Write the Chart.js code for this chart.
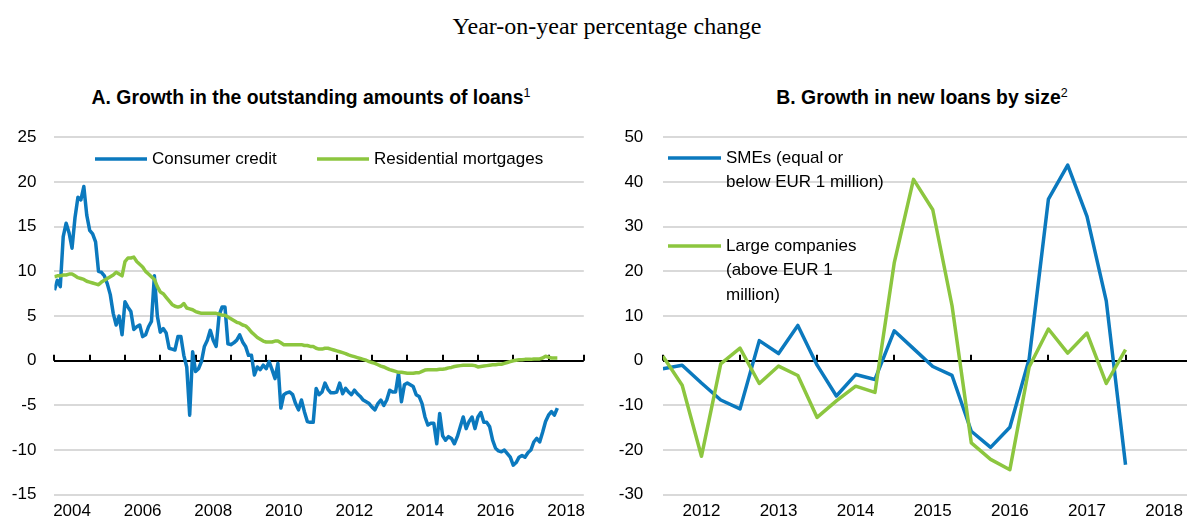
<!DOCTYPE html>
<html>
<head>
<meta charset="utf-8">
<script src="https://cdn.jsdelivr.net/npm/chart.js@4"></script>
<style>
  html, body { margin: 0; padding: 0; background: #fff; }
  body { width: 1189px; height: 526px; position: relative; overflow: hidden; }
  canvas { position: absolute; top: 0; }
  #cA { left: 0; }
  #cB { left: 594px; }
  .hd { position: absolute; white-space: nowrap; color: #000; transform: translate(-50%, -50%); }
  #top { left: 607px; top: 26px; font: 24px "Liberation Serif", "Times New Roman", serif; }
  .pt { top: 97px; font: bold 19.4px "Liberation Sans", Arial, sans-serif; }
  .pt sup { font-weight: normal; font-size: 12.5px; vertical-align: 7px; line-height: 0; }
  #tA { left: 311px; }
  #tB { left: 922px; }
</style>
</head>
<body>
<div id="top" class="hd">Year-on-year percentage change</div>
<div id="tA" class="hd pt">A. Growth in the outstanding amounts of loans<sup>1</sup></div>
<div id="tB" class="hd pt">B. Growth in new loans by size<sup>2</sup></div>
<canvas id="cA" width="594" height="526"></canvas>
<canvas id="cB" width="595" height="526"></canvas>
<script>
// ---- Panel A: monthly series, January 2004 onwards (year-on-year %) ----
const firstMonthA = '2004-01';
const consumerCredit = [
  7.9, 9.0, 8.3, 13.9, 15.4, 14.3, 12.6, 16.0, 18.3, 18.0, 19.5, 16.3,
  14.6, 14.2, 13.3, 10.0, 9.9, 9.5, 8.6, 7.4, 5.3, 4.0, 5.0, 2.9,
  6.6, 6.0, 5.5, 3.5, 3.8, 4.0, 2.7, 2.9, 3.8, 4.4, 9.5, 5.0,
  3.2, 3.6, 3.1, 1.4, 1.3, 1.2, 2.7, 2.7, 0.6, -0.7, -6.1, 1.0,
  -1.2, -0.9, -0.1, 1.6, 2.3, 3.4, 2.3, 1.6, 5.1, 6.0, 6.0, 1.9,
  1.8, 2.0, 2.3, 2.9, 2.1, 1.6, 0.6, 0.6, -1.6, -0.7, -1.0, -0.5,
  -0.9, -0.1, -1.0, -2.0, -0.3, -5.3, -3.8, -3.6, -3.5, -3.8, -4.8, -5.5,
  -4.4, -5.7, -6.8, -6.9, -6.9, -3.1, -3.8, -3.5, -2.5, -3.2, -3.6, -3.6,
  -3.5, -2.5, -3.7, -3.1, -3.5, -3.8, -3.3, -3.7, -4.0, -4.4, -4.6, -4.8,
  -5.2, -5.5, -4.8, -4.4, -5.0, -4.4, -3.3, -3.5, -3.5, -1.4, -4.6, -2.7,
  -2.5, -2.7, -2.9, -3.8, -4.0, -4.8, -6.3, -7.2, -7.0, -7.0, -9.3, -5.9,
  -8.4, -8.9, -8.5, -8.7, -9.3, -8.5, -7.4, -6.3, -7.6, -6.8, -6.3, -7.6,
  -6.3, -5.8, -6.9, -6.9, -7.4, -8.9, -9.8, -10.1, -10.2, -10.0, -10.4, -10.8,
  -11.7, -11.4, -10.8, -10.6, -10.8, -10.3, -10.0, -9.1, -8.7, -9.1, -8.0, -6.8,
  -6.1, -5.7, -6.1, -5.3
];
const residentialMortgages = [
  9.4, 9.5, 9.5, 9.6, 9.6, 9.7, 9.7, 9.5, 9.3, 9.2, 9.1, 8.9,
  8.8, 8.7, 8.6, 8.5, 8.8, 9.0, 9.2, 9.4, 9.6, 9.9, 9.7, 9.5,
  11.1, 11.5, 11.5, 11.6, 11.1, 10.8, 10.5, 10.0, 9.7, 9.4, 9.1, 8.3,
  7.7, 7.5, 7.1, 6.7, 6.3, 6.1, 6.0, 6.1, 6.4, 5.9, 5.8, 5.7,
  5.5, 5.4, 5.3, 5.3, 5.3, 5.3, 5.3, 5.3, 5.2, 5.1, 5.1, 4.9,
  4.7, 4.5, 4.3, 4.2, 4.0, 3.9, 3.6, 3.2, 2.9, 2.6, 2.4, 2.2,
  2.1, 2.1, 2.1, 2.2, 2.2, 2.0, 1.8, 1.8, 1.8, 1.8, 1.8, 1.8,
  1.8, 1.7, 1.7, 1.6, 1.6, 1.4, 1.3, 1.3, 1.4, 1.4, 1.3, 1.2,
  1.1, 1.0, 0.9, 0.8, 0.65, 0.55, 0.45, 0.35, 0.25, 0.15, 0.05, -0.1,
  -0.2, -0.3, -0.45, -0.6, -0.7, -0.85, -1.0, -1.1, -1.2, -1.3, -1.3, -1.35,
  -1.4, -1.4, -1.4, -1.35, -1.35, -1.2, -1.05, -1.0, -1.0, -1.0, -1.0, -0.95,
  -0.95, -0.9, -0.8, -0.75, -0.65, -0.6, -0.55, -0.5, -0.5, -0.5, -0.5, -0.55,
  -0.7, -0.65, -0.6, -0.55, -0.5, -0.45, -0.45, -0.4, -0.4, -0.3, -0.2, -0.1,
  0.0, 0.05, 0.1, 0.1, 0.15, 0.15, 0.15, 0.2, 0.2, 0.2, 0.3, 0.5,
  0.4, 0.3, 0.3, 0.3
];
const yearLabelsA = ['2004', '2006', '2008', '2010', '2012', '2014', '2016', '2018'];

// ---- Panel B: quarterly series (year-on-year %) ----
const quarters = [
  '2012Q1', '2012Q2', '2012Q3', '2012Q4', '2013Q1', '2013Q2', '2013Q3', '2013Q4',
  '2014Q1', '2014Q2', '2014Q3', '2014Q4', '2015Q1', '2015Q2', '2015Q3', '2015Q4',
  '2016Q1', '2016Q2', '2016Q3', '2016Q4', '2017Q1', '2017Q2', '2017Q3', '2017Q4',
  '2018Q1'
];
const smeLoans = [
  -1.8, -1.0, -5.0, -8.8, -10.8, 4.5, 1.6, 7.9,
  -1.0, -7.9, -3.1, -4.2, 6.7, 2.7, -1.3, -3.3,
  -15.8, -19.4, -14.9, 0.4, 36.2, 43.8, 32.3, 13.4,
  -23.3
];
const largeCompanyLoans = [
  1.0, -5.5, -21.4, -0.7, 2.8, -5.1, -1.2, -3.3,
  -12.7, -9.0, -5.7, -7.1, 21.9, 40.6, 33.8, 12.3,
  -18.4, -22.1, -24.4, -1.4, 7.1, 1.7, 6.2, -5.1,
  2.5
];
const yearLabelsB = ['2012', '2013', '2014', '2015', '2016', '2017', '2018'];

// ---- styling ----
const BLUE = '#0b79be';
const GREEN = '#8cc63f';
const GRID = '#d9d9d9';
const FONT_FAMILY = '"Liberation Sans", Arial, sans-serif';
const FONT_SIZE = 17;

// decimal-year positions
function monthToYear(start, i) {
  const [y, m] = start.split('-').map(Number);
  return y + (m - 1 + i) / 12;
}
function quarterToYear(q) {
  const [y, n] = q.split('Q').map(Number);
  return y + (n - 1) / 4;
}

// small upward tick marks on the zero line at each year boundary
const zeroTicks = {
  id: 'zeroTicks',
  beforeDatasetsDraw(chart) {
    const xs = chart.scales.x, ys = chart.scales.y, ctx = chart.ctx;
    const y0 = ys.getPixelForValue(0);
    ctx.save();
    ctx.strokeStyle = '#000';
    ctx.lineWidth = 2;
    for (let yr = Math.ceil(xs.min); yr <= Math.floor(xs.max); yr++) {
      const x = Math.round(xs.getPixelForValue(yr));
      ctx.beginPath();
      ctx.moveTo(x, y0);
      ctx.lineTo(x, y0 - 6);
      ctx.stroke();
    }
    ctx.restore();
  }
};

// in-plot legend with line swatches and (possibly multi-line) text
const boxLegend = {
  id: 'boxLegend',
  afterDatasetsDraw(chart, args, opts) {
    const ctx = chart.ctx;
    ctx.save();
    ctx.font = `${FONT_SIZE}px ${FONT_FAMILY}`;
    ctx.fillStyle = '#000';
    ctx.textBaseline = 'middle';
    ctx.textAlign = 'left';
    opts.items.forEach((it, i) => {
      const ds = chart.data.datasets[i];
      ctx.strokeStyle = ds.borderColor;
      ctx.lineWidth = 3.5;
      ctx.beginPath();
      ctx.moveTo(it.x, it.y);
      ctx.lineTo(it.x + it.w, it.y);
      ctx.stroke();
      const lines = it.lines || [ds.label];
      lines.forEach((t, k) => ctx.fillText(t, it.tx, it.y + k * opts.lineGap));
    });
    ctx.restore();
  }
};

function baseOptions(cfg) {
  return {
    responsive: false,
    animation: false,
    events: [],
    layout: { padding: { left: 0, right: cfg.padRight, top: cfg.top, bottom: 0 } },
    plugins: {
      legend: { display: false },
      tooltip: { enabled: false },
      boxLegend: cfg.legend
    },
    scales: {
      x: {
        type: 'linear',
        min: cfg.xMin,
        max: cfg.xMax,
        afterBuildTicks: s => { s.ticks = cfg.xLabels.map(l => ({ value: Number(l) + 0.5 })); },
        afterFit: s => { s.height = cfg.xHeight; },
        ticks: {
          autoSkip: false, maxRotation: 0, minRotation: 0,
          padding: 6,
          color: '#000',
          font: { family: FONT_FAMILY, size: FONT_SIZE },
          callback: (v, i) => cfg.xLabels[i]
        },
        grid: { display: false, drawTicks: false },
        border: { display: false }
      },
      y: {
        min: cfg.yMin,
        max: cfg.yMax,
        afterFit: s => { s.width = cfg.yWidth; },
        ticks: {
          stepSize: cfg.yStep,
          padding: cfg.yPad,
          color: '#000',
          font: { family: FONT_FAMILY, size: FONT_SIZE }
        },
        grid: {
          drawTicks: false,
          lineWidth: 2,
          color: c => (c.tick && c.tick.value === 0 ? '#000' : GRID)
        },
        border: { display: false }
      }
    }
  };
}

function lineDataset(label, xs, ys, color, order) {
  return {
    label,
    data: ys.map((v, i) => ({ x: xs[i], y: v })),
    borderColor: color,
    backgroundColor: color,
    borderWidth: 3.5,
    pointRadius: 0,
    tension: 0,
    borderJoinStyle: 'round',
    borderCapStyle: 'butt',
    order
  };
}

// Panel A
const monthsA = consumerCredit.map((_, i) => monthToYear(firstMonthA, i));
new Chart(document.getElementById('cA'), {
  type: 'line',
  data: {
    datasets: [
      lineDataset('Consumer credit', monthsA, consumerCredit, BLUE, 2),
      lineDataset('Residential mortgages', monthsA, residentialMortgages, GREEN, 1)
    ]
  },
  options: baseOptions({
    padRight: 10.2, top: 137.4, xHeight: 31.3,
    xMin: 2004, xMax: 2019, xLabels: yearLabelsA,
    yMin: -15, yMax: 25, yStep: 5, yWidth: 54.4, yPad: 18,
    legend: {
      lineGap: 24.5,
      items: [
        { x: 95, w: 52, y: 159, tx: 152 },
        { x: 317, w: 52, y: 159, tx: 374 }
      ]
    }
  }),
  plugins: [zeroTicks, boxLegend]
});

// Panel B
const qx = quarters.map(quarterToYear);
new Chart(document.getElementById('cB'), {
  type: 'line',
  data: {
    datasets: [
      lineDataset('SMEs (equal or below EUR 1 million)', qx, smeLoans, BLUE, 2),
      lineDataset('Large companies (above EUR 1 million)', qx, largeCompanyLoans, GREEN, 1)
    ]
  },
  options: baseOptions({
    padRight: 0, top: 137.4, xHeight: 31.3,
    xMin: 2012, xMax: 2018.797, xLabels: yearLabelsB,
    yMin: -30, yMax: 50, yStep: 10, yWidth: 68.9, yPad: 19.6,
    legend: {
      lineGap: 24.5,
      items: [
        { x: 74, w: 53, y: 158, tx: 132, lines: ['SMEs (equal or', 'below EUR 1 million)'] },
        { x: 74, w: 53, y: 246, tx: 132, lines: ['Large companies', '(above EUR 1', 'million)'] }
      ]
    }
  }),
  plugins: [zeroTicks, boxLegend]
});
</script>
</body>
</html>
